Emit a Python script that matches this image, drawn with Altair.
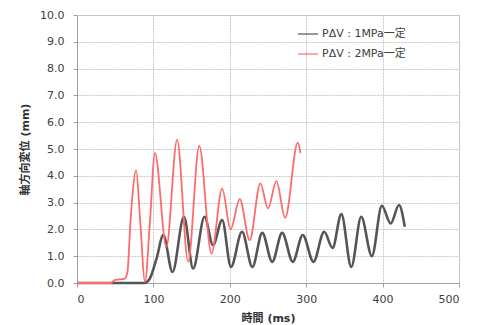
import altair as alt
import pandas as pd

FONT = "DejaVu Sans, Noto Sans CJK JP"

series_names = ["PΔV : 1MPa一定", "PΔV : 2MPa一定"]

t_1mpa = [0, 88, 95, 104, 113, 125, 140, 152, 167, 178, 190, 201.5, 216, 229.5,
          242.5, 255.5, 268.5, 282.5, 295.5, 309.5, 323.5, 334.5, 346, 359, 372,
          386, 399, 410.5, 421.5, 429]
v_1mpa = [0, 0, 0.15, 0.9, 1.79, 0.41, 2.47, 0.54, 2.47, 1.41, 2.35, 0.6, 1.91, 0.6,
          1.87, 0.79, 1.87, 0.79, 1.79, 0.79, 1.91, 1.31, 2.57, 0.6, 2.47,
          1.0, 2.88, 2.22, 2.91, 2.1]

t_2mpa = [0, 44, 50, 62, 66, 70, 77.5, 82.5, 89, 95.5, 102, 117, 131, 145.5, 160,
          176, 190, 201, 213, 226, 240, 250, 261, 272.5, 289, 292.5]
v_2mpa = [0, 0, 0.12, 0.15, 0.4, 2.3, 4.2, 2.4, 0.05, 2.3, 4.85, 1.35, 5.34, 0.8, 5.12,
          1.1, 3.52, 2.0, 3.13, 1.6, 3.72, 2.78, 3.8, 2.43, 5.24, 4.85]

x_ticks = [0, 100, 200, 300, 400, 500]
y_ticks = [0, 1, 2, 3, 4, 5, 6, 7, 8, 9, 10]

df = pd.concat([
    pd.DataFrame({"t": t_1mpa, "v": v_1mpa, "s": series_names[0], "o": 0}),
    pd.DataFrame({"t": t_2mpa, "v": v_2mpa, "s": series_names[1], "o": 1}),
])

chart = alt.Chart(df).mark_line(interpolate="monotone").encode(
    x=alt.X("t:Q", title="時間 (ms)",
            scale=alt.Scale(domain=[0, 500], nice=False),
            axis=alt.Axis(values=x_ticks, format="d")),
    y=alt.Y("v:Q", title="軸方向変位 (mm)",
            scale=alt.Scale(domain=[0, 10], nice=False),
            axis=alt.Axis(values=y_ticks, format=".1f")),
    color=alt.Color("s:N", title=None,
                    scale=alt.Scale(domain=series_names, range=["#555555", "#ff6b6b"]),
                    legend=alt.Legend(orient="none", legendX=220, legendY=8,
                                      symbolType="stroke", symbolSize=400,
                                      symbolStrokeWidth=1.2, labelFontSize=11,
                                      labelFont=FONT, labelColor="#404040",
                                      labelOffset=3, rowPadding=4, padding=0)),
    strokeWidth=alt.StrokeWidth("o:N", scale=alt.Scale(domain=[0, 1], range=[2.6, 1.8]),
                                legend=None),
    order="o:Q",
).properties(
    width=382, height=268,
    autosize=alt.AutoSizeParams(type="none"),
    padding={"left": 69, "top": 7, "right": 14, "bottom": 45},
).configure_view(
    stroke="#c0c0c0", strokeWidth=1
).configure_axis(
    labelFont=FONT, labelFontSize=11, labelColor="#404040",
    titleFont=FONT, titleFontSize=11, titleFontWeight="bold", titleColor="#303030",
    gridColor="#c8c8c8", gridDash=[2, 1], gridWidth=1,
    domainColor="#a0a0a0", tickColor="#a0a0a0", tickSize=4,
).configure_axisY(
    labelPadding=9, titlePadding=9,
).configure_axisX(
    labelPadding=6, titlePadding=8,
)

chart.save("out.html", embed_options={"renderer": "svg", "actions": False})
